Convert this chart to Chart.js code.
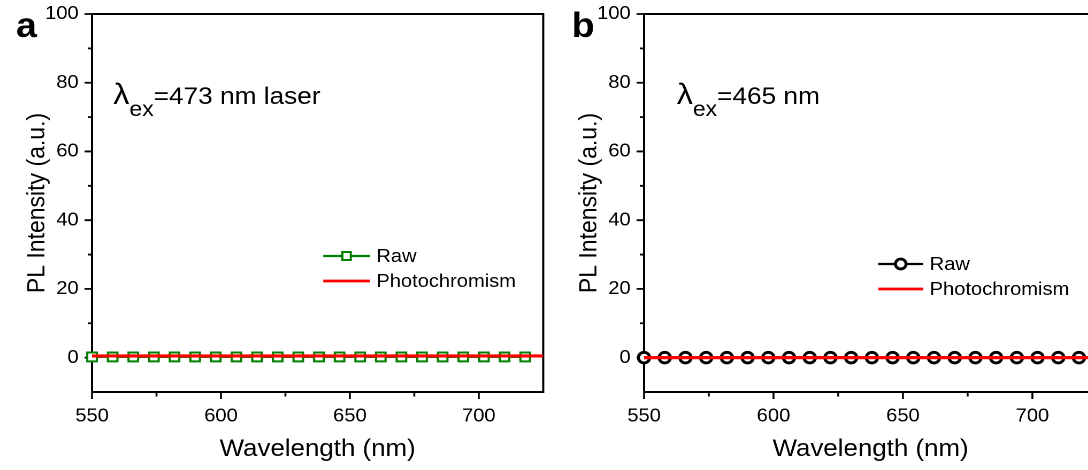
<!DOCTYPE html>
<html><head><meta charset="utf-8">
<script src="https://cdn.jsdelivr.net/npm/chart.js@4/dist/chart.umd.min.js"></script>
<style>
html,body{margin:0;padding:0;width:1088px;height:470px;overflow:hidden;background:#fff;}
.wrap{position:absolute;top:0;height:470px;}
canvas{transform-origin:0 0;transform:scaleX(1.07);}
</style></head><body>
<div class="wrap" style="left:0px"><canvas id="ca" width="516" height="470"></canvas></div>
<div class="wrap" style="left:544px"><canvas id="cb" width="525" height="470"></canvas></div>
<script>
// ---- data ----
const xMin = 550, xMax = 725, yMin = -10, yMax = 100;
const xMajorTicks = [550, 600, 650, 700];
const xMinorTicks = [575, 625, 675];
const yMajorTicks = [0, 20, 40, 60, 80, 100];
const yMinorTicks = [10, 30, 50, 70, 90];

const rawWavelengthA = [550,558,566,574,582,590,598,606,614,622,630,638,646,654,662,670,678,686,694,702,710,718];
const rawIntensityA  = [0.2,0.2,0.2,0.2,0.2,0.2,0.2,0.2,0.2,0.2,0.2,0.2,0.2,0.2,0.2,0.2,0.2,0.2,0.2,0.2,0.2,0.2];
const photoWavelengthA = [550,575,600,625,650,675,700,725];
const photoIntensityA  = [0.5,0.5,0.5,0.5,0.5,0.5,0.5,0.5];

const rawWavelengthB = [550,558,566,574,582,590,598,606,614,622,630,638,646,654,662,670,678,686,694,702,710,718];
const rawIntensityB  = [0,0,0,0,0,0,0,0,0,0,0,0,0,0,0,0,0,0,0,0,0,0];
const photoWavelengthB = [550,575,600,625,650,675,700,725];
const photoIntensityB  = [0,0,0,0,0,0,0,0];

const seriesNames = ['Raw', 'Photochromism'];
const FONT = "'Liberation Sans', Arial, sans-serif";

function toXY(xs, ys) { return xs.map((x, i) => ({x: x, y: ys[i]})); }

function drawMarker(ctx, style, x, y, r, color, bw) {
  ctx.save();
  ctx.fillStyle = '#fff';
  ctx.strokeStyle = color;
  ctx.lineWidth = bw;
  ctx.beginPath();
  if (style === 'rect') {
    const s = r * Math.SQRT1_2;
    ctx.rect(x - s, y - s, 2 * s, 2 * s);
  } else {
    ctx.arc(x, y, r, 0, Math.PI * 2);
  }
  ctx.fill();
  ctx.stroke();
  ctx.restore();
}

const framePlugin = {
  id: 'frame',
  beforeDatasetsDraw(chart) {
    const {ctx, chartArea: a, scales: {x, y}} = chart;
    ctx.save();
    ctx.strokeStyle = '#000';
    ctx.lineWidth = 2;
    ctx.strokeRect(a.left, a.top, a.right - a.left, a.bottom - a.top);
    ctx.lineWidth = 1.8;
    ctx.beginPath();
    xMajorTicks.forEach(v => { const p = x.getPixelForValue(v); ctx.moveTo(p, a.bottom); ctx.lineTo(p, a.bottom + 7); });
    xMinorTicks.forEach(v => { const p = x.getPixelForValue(v); ctx.moveTo(p, a.bottom); ctx.lineTo(p, a.bottom + 4.5); });
    yMajorTicks.forEach(v => { const p = y.getPixelForValue(v); ctx.moveTo(a.left, p); ctx.lineTo(a.left - 7, p); });
    yMinorTicks.forEach(v => { const p = y.getPixelForValue(v); ctx.moveTo(a.left, p); ctx.lineTo(a.left - 4, p); });
    ctx.stroke();
    ctx.restore();
  },
  afterDraw(chart, args, o) {
    const {ctx, chartArea: a} = chart;
    ctx.save();
    ctx.fillStyle = '#000';
    // panel letter
    ctx.font = 'bold 35px ' + FONT;
    ctx.textBaseline = 'alphabetic';
    ctx.textAlign = 'left';
    ctx.fillText(o.letter, o.letterX, 37);
    // annotation
    let ax = a.left + o.annoDX;
    ctx.font = '30px ' + FONT;
    ctx.fillText('\u03BB', ax, 104);
    ax += ctx.measureText('\u03BB').width;
    ctx.font = '21.5px ' + FONT;
    ctx.fillText('ex', ax, 116);
    ax += ctx.measureText('ex').width;
    ctx.font = '24.5px ' + FONT;
    ctx.fillText(o.anno, ax, 104);
    // legend
    const lx0 = a.left + o.legDX, lx1 = lx0 + o.legLen;
    ctx.font = '18.8px ' + FONT;
    ctx.textBaseline = 'middle';
    ctx.strokeStyle = o.rawColor; ctx.lineWidth = 2.2;
    ctx.beginPath(); ctx.moveTo(lx0, o.legY); ctx.lineTo(lx1, o.legY); ctx.stroke();
    drawMarker(ctx, o.rawStyle, (lx0 + lx1) / 2, o.legY, o.legR, o.rawColor, o.rawBW);
    ctx.fillStyle = '#000';
    ctx.fillText(seriesNames[0], lx1 + 6, o.legY + 1);
    ctx.strokeStyle = '#ff0000'; ctx.lineWidth = 2.8;
    ctx.beginPath(); ctx.moveTo(lx0, o.legY + 25); ctx.lineTo(lx1, o.legY + 25); ctx.stroke();
    ctx.fillText(seriesNames[1], lx1 + 6, o.legY + 26);
    ctx.restore();
  }
};

function makeChart(id, p) {
  return new Chart(document.getElementById(id), {
    type: 'line',
    data: {
      datasets: [
        { label: seriesNames[1], data: toXY(p.photoX, p.photoY), borderColor: '#ff0000', borderWidth: 3.2,
          pointRadius: 0, order: 0, tension: 0 },
        { label: seriesNames[0], data: toXY(p.rawX, p.rawY), borderColor: p.rawColor, borderWidth: 2.2,
          pointStyle: p.rawStyle, pointRadius: p.rawR, pointBorderWidth: p.rawBW, pointBorderColor: p.rawColor,
          pointBackgroundColor: '#fff', order: 1, tension: 0, clip: false }
      ]
    },
    options: {
      responsive: false, animation: false, devicePixelRatio: 2, events: [],
      layout: { padding: { left: 0, right: p.rightPad, top: 14, bottom: 0 } },
      plugins: { legend: { display: false }, tooltip: { enabled: false },
        frame: p.frame },
      scales: {
        x: {
          type: 'linear', min: xMin, max: xMax,
          grid: { display: false, drawTicks: false }, border: { display: false },
          ticks: { stepSize: 25, autoSkip: false, maxRotation: 0, padding: 13, color: '#000',
            font: { family: FONT, size: 18.8 },
            callback: v => xMajorTicks.includes(v) ? String(v) : '' },
          title: { display: true, text: 'Wavelength (nm)', color: '#000', font: { family: FONT, size: 24.2 },
            padding: { top: 0, bottom: 6 } },
          afterFit: s => { s.height = 78; s.paddingLeft = 0; s.paddingRight = 0; }
        },
        y: {
          type: 'linear', min: yMin, max: yMax,
          grid: { display: false, drawTicks: false }, border: { display: false },
          ticks: { stepSize: 10, autoSkip: false, padding: 12.5, color: '#000',
            font: { family: FONT, size: 18.8 },
            callback: v => yMajorTicks.includes(v) ? String(v) : '' },
          title: { display: true, text: 'PL Intensity (a.u.)', color: '#000', font: { family: FONT, size: 23 },
            padding: { top: p.yTitlePad, bottom: 0 } },
          afterFit: s => { s.width = p.yAxisW; s.paddingTop = 0; s.paddingBottom = 0; }
        }
      }
    },
    plugins: [framePlugin]
  });
}

makeChart('ca', {
  rawX: rawWavelengthA, rawY: rawIntensityA, photoX: photoWavelengthA, photoY: photoIntensityA,
  rawColor: '#008000', rawStyle: 'rect', rawR: 6.3, rawBW: 2,
  rightPad: 1.5, yAxisW: 86, yTitlePad: 21.5,
  frame: { letter: 'a', letterX: 15, annoDX: 19.9, anno: '=473 nm laser',
    legDX: 216.1, legLen: 43.6, legY: 256, legR: 5.6, rawColor: '#008000', rawStyle: 'rect', rawBW: 2 }
});
makeChart('cb', {
  rawX: rawWavelengthB, rawY: rawIntensityB, photoX: photoWavelengthB, photoY: photoIntensityB,
  rawColor: '#000000', rawStyle: 'circle', rawR: 5.3, rawBW: 2.8,
  rightPad: 2, yAxisW: 93.5, yTitlePad: 29,
  frame: { letter: 'b', letterX: 25.9, annoDX: 30.6, anno: '=465 nm',
    legDX: 218.9, legLen: 42, legY: 264, legR: 5, rawColor: '#000000', rawStyle: 'circle', rawBW: 2.8 }
});
</script></body></html>
